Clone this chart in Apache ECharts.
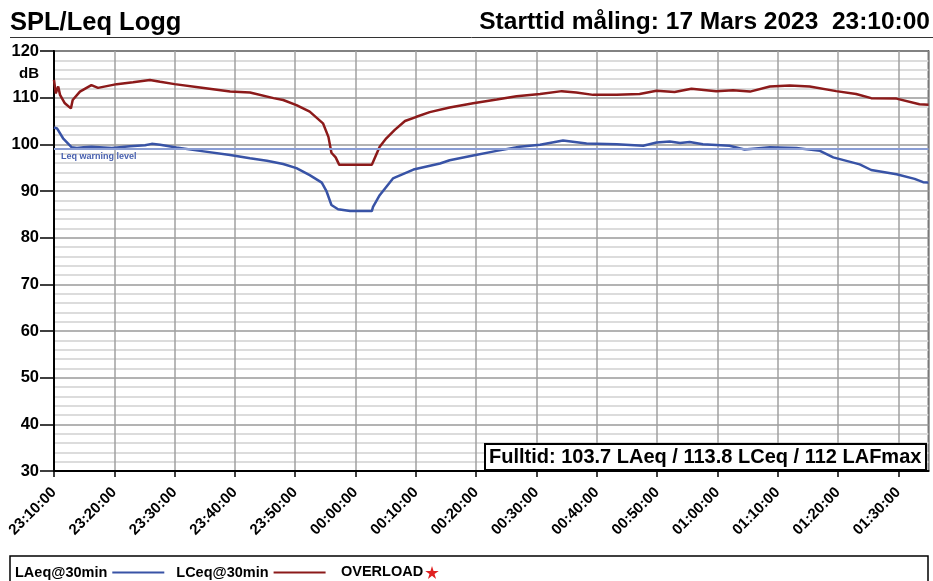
<!DOCTYPE html>
<html>
<head>
<meta charset="utf-8">
<script src="https://cdn.jsdelivr.net/npm/echarts@6/dist/echarts.min.js"></script>
<style>html,body{margin:0;padding:0;background:#fff;}#chart{width:933px;height:581px;}</style>
</head>
<body>
<div id="chart"></div>
<script>
// Time in minutes from the start (23:10:00)
const startLabel = '23:10:00';
const xTickInterval = 10;
const xMax = 145;
const yTicks = [30, 40, 50, 60, 70, 80, 90, 100, 110, 120];
const warningLevel = 99;

const laTimes = [0, 0.5, 1.5, 2.9, 3.8, 4.9, 6.2, 9.6, 12.6, 15.1, 16.2, 17.6, 20.3, 24.2, 29.2, 32.5, 35.3, 38, 40.2, 42.4, 44.4, 45.2, 46.0, 47.1, 49.1, 52.7, 52.9, 54, 56.2, 59.6, 64, 65.6, 69.5, 73.4, 77.2, 80.6, 84.4, 88.3, 93.3, 97.7, 99.9, 102.1, 103.8, 105.4, 107.6, 112, 114.5, 118.7, 123.1, 127, 129.2, 133.6, 135.5, 139.7, 142.7, 144.1, 145];
const laValues = [103.6, 103.4, 101.3, 99.4, 99.2, 99.4, 99.5, 99.2, 99.6, 99.8, 100.1, 99.9, 99.3, 98.6, 97.7, 97.0, 96.5, 95.8, 94.9, 93.4, 91.8, 89.9, 87.0, 86.1, 85.7, 85.7, 86.6, 89.1, 92.7, 94.6, 95.9, 96.6, 97.6, 98.6, 99.5, 99.9, 100.8, 100.2, 100.0, 99.7, 100.4, 100.6, 100.3, 100.5, 100.0, 99.7, 98.9, 99.4, 99.2, 98.6, 97.2, 95.7, 94.5, 93.6, 92.6, 91.9, 91.8];

const lcTimes = [0, 0.3, 0.7, 1.0, 1.8, 2.8, 3.1, 4.3, 6.2, 7.3, 10.4, 13.1, 15.9, 17.6, 20, 24.2, 29.2, 32.5, 36.4, 38, 40.2, 42.4, 44.6, 45.5, 46.0, 46.7, 47.3, 52.7, 53.0, 54, 55.1, 56.5, 58.2, 60.1, 62.3, 65.6, 69.5, 73.4, 76.7, 80.6, 84.2, 86.6, 89.4, 93.3, 97.1, 99.9, 102.9, 105.7, 109.8, 112.6, 115.4, 118.7, 122, 125.3, 129.7, 133.0, 135.5, 139.7, 143.5, 145];
const lcValues = [113.8, 110.9, 112.4, 110.6, 108.8, 107.7, 109.5, 111.3, 112.7, 112.1, 112.9, 113.3, 113.8, 113.4, 112.9, 112.2, 111.3, 111.1, 109.9, 109.5, 108.4, 107.0, 104.5, 101.6, 98.2, 97.2, 95.6, 95.6, 95.9, 99.5, 101.3, 103.1, 105.0, 105.9, 106.9, 107.9, 108.8, 109.6, 110.3, 110.8, 111.4, 111.1, 110.6, 110.6, 110.8, 111.5, 111.2, 111.9, 111.4, 111.6, 111.3, 112.4, 112.6, 112.4, 111.4, 110.8, 109.9, 109.8, 108.6, 108.5];

const seriesNames = ['LAeq@30min', 'LCeq@30min'];
const overloadText = 'OVERLOAD';
const titleText = 'SPL/Leq Logg';
const startText = 'Starttid måling: 17 Mars 2023  23:10:00';
const summaryText = 'Fulltid: 103.7 LAeq / 113.8 LCeq / 112 LAFmax';
const warningText = 'Leq warning level';

const FONT = '"Liberation Sans", Arial, Helvetica, sans-serif';
const BLUE = '#3853a6';
const RED = '#8c1a1a';

function fmtTime(m) {
  const [h0, m0] = startLabel.split(':').map(Number);
  let total = h0 * 60 + m0 + Math.round(m);
  total = ((total % 1440) + 1440) % 1440;
  const h = Math.floor(total / 60), mm = total % 60;
  return String(h).padStart(2, '0') + ':' + String(mm).padStart(2, '0') + ':00';
}

// star glyph used in the legend (decoration)
const starPts = [[50,0],[61,35],[98,35],[68,57],[79,92],[50,70],[21,92],[32,57],[2,35],[39,35]]
  .map(p => [425 + p[0] * 0.14, 566 + p[1] * 0.14]);

const chart = echarts.init(document.getElementById('chart'), null, {renderer: 'canvas'});

chart.setOption({
  animation: false,
  backgroundColor: '#fff',
  title: [
    {text: titleText, left: 10, top: 10, padding: 0, textStyle: {fontFamily: FONT, fontSize: 25.5, fontWeight: 'bold', color: '#000'}},
    {text: startText, right: 3, top: 10, padding: 0, textStyle: {fontFamily: FONT, fontSize: 24.5, fontWeight: 'bold', color: '#000'}}
  ],
  grid: {left: 54, top: 51, right: 4.5, bottom: 110, show: true, borderColor: '#000', borderWidth: 1.5, backgroundColor: 'transparent'},
  legend: {
    left: 15, top: 565, align: 'right', itemGap: 12, itemWidth: 52, itemHeight: 2, padding: 0,
    textStyle: {fontFamily: FONT, fontSize: 14.5, fontWeight: 'bold', color: '#000'},
    selectedMode: false,
    data: seriesNames.map(n => ({name: n, icon: 'rect'}))
  },
  xAxis: {
    type: 'value', min: 0, max: xMax, interval: xTickInterval,
    axisLine: {show: true, lineStyle: {color: '#000', width: 2}},
    axisTick: {show: true, length: 6, lineStyle: {color: '#000', width: 1.5}},
    axisLabel: {rotate: 45, margin: 19, formatter: v => fmtTime(v), fontFamily: FONT, fontSize: 15, fontWeight: 'bold', color: '#000', showMaxLabel: false},
    splitLine: {show: true, lineStyle: {color: '#a0a0a0', width: 1.5}}
  },
  yAxis: {
    type: 'value', min: yTicks[0], max: yTicks[yTicks.length - 1], interval: 10,
    axisLine: {show: true, lineStyle: {color: '#000', width: 2}},
    axisTick: {show: true, length: 14, lineStyle: {color: '#000', width: 1.5}},
    axisLabel: {margin: 15, fontFamily: FONT, fontSize: 16.5, fontWeight: 'bold', color: '#000'},
    splitLine: {show: true, lineStyle: {color: '#9a9a9a', width: 1.5}},
    minorTick: {show: false, splitNumber: 5},
    minorSplitLine: {show: true, lineStyle: {color: '#dcdcdc', width: 2}}
  },
  series: [
    {
      name: seriesNames[0], type: 'line', showSymbol: false, symbol: 'none',
      data: laTimes.map((t, i) => [t, laValues[i]]),
      lineStyle: {color: BLUE, width: 2.5}, itemStyle: {color: BLUE}, z: 4,
      markLine: {
        silent: true, symbol: 'none',
        lineStyle: {color: '#8a9dd4', width: 2, type: 'solid'},
        label: {show: true, position: 'insideStartBottom', formatter: warningText, distance: [7, 3], fontFamily: FONT, fontSize: 9, fontWeight: 'bold', color: '#4a62b0'},
        data: [{yAxis: warningLevel}]
      }
    },
    {
      name: seriesNames[1], type: 'line', showSymbol: false, symbol: 'none',
      data: lcTimes.map((t, i) => [t, lcValues[i]]),
      lineStyle: {color: RED, width: 2.5}, itemStyle: {color: RED}, z: 4
    }
  ],
  graphic: [
    {type: 'line', shape: {x1: 10, y1: 37.5, x2: 933, y2: 37.5}, style: {stroke: '#333', lineWidth: 1}, z: 10},
    {type: 'text', x: 19, y: 74, style: {text: 'dB', font: 'bold 15px ' + FONT, fill: '#000', textVerticalAlign: 'middle'}, z: 10},
    {type: 'rect', shape: {x: 485, y: 444, width: 441, height: 26}, style: {fill: '#fff', stroke: '#000', lineWidth: 2}, z: 10},
    {type: 'text', x: 489, y: 457.5, style: {text: summaryText, font: 'bold 20px ' + FONT, fill: '#000', textVerticalAlign: 'middle'}, z: 11},
    {type: 'rect', shape: {x: 10, y: 556, width: 918, height: 30}, style: {fill: 'none', stroke: '#000', lineWidth: 1.5}, z: 10},
    {type: 'text', x: 341, y: 571.5, style: {text: overloadText, font: 'bold 14.5px ' + FONT, fill: '#000', textVerticalAlign: 'middle'}, z: 11},
    {type: 'polygon', shape: {points: starPts}, style: {fill: '#e02020'}, z: 11}
  ]
});
</script>
</body>
</html>
